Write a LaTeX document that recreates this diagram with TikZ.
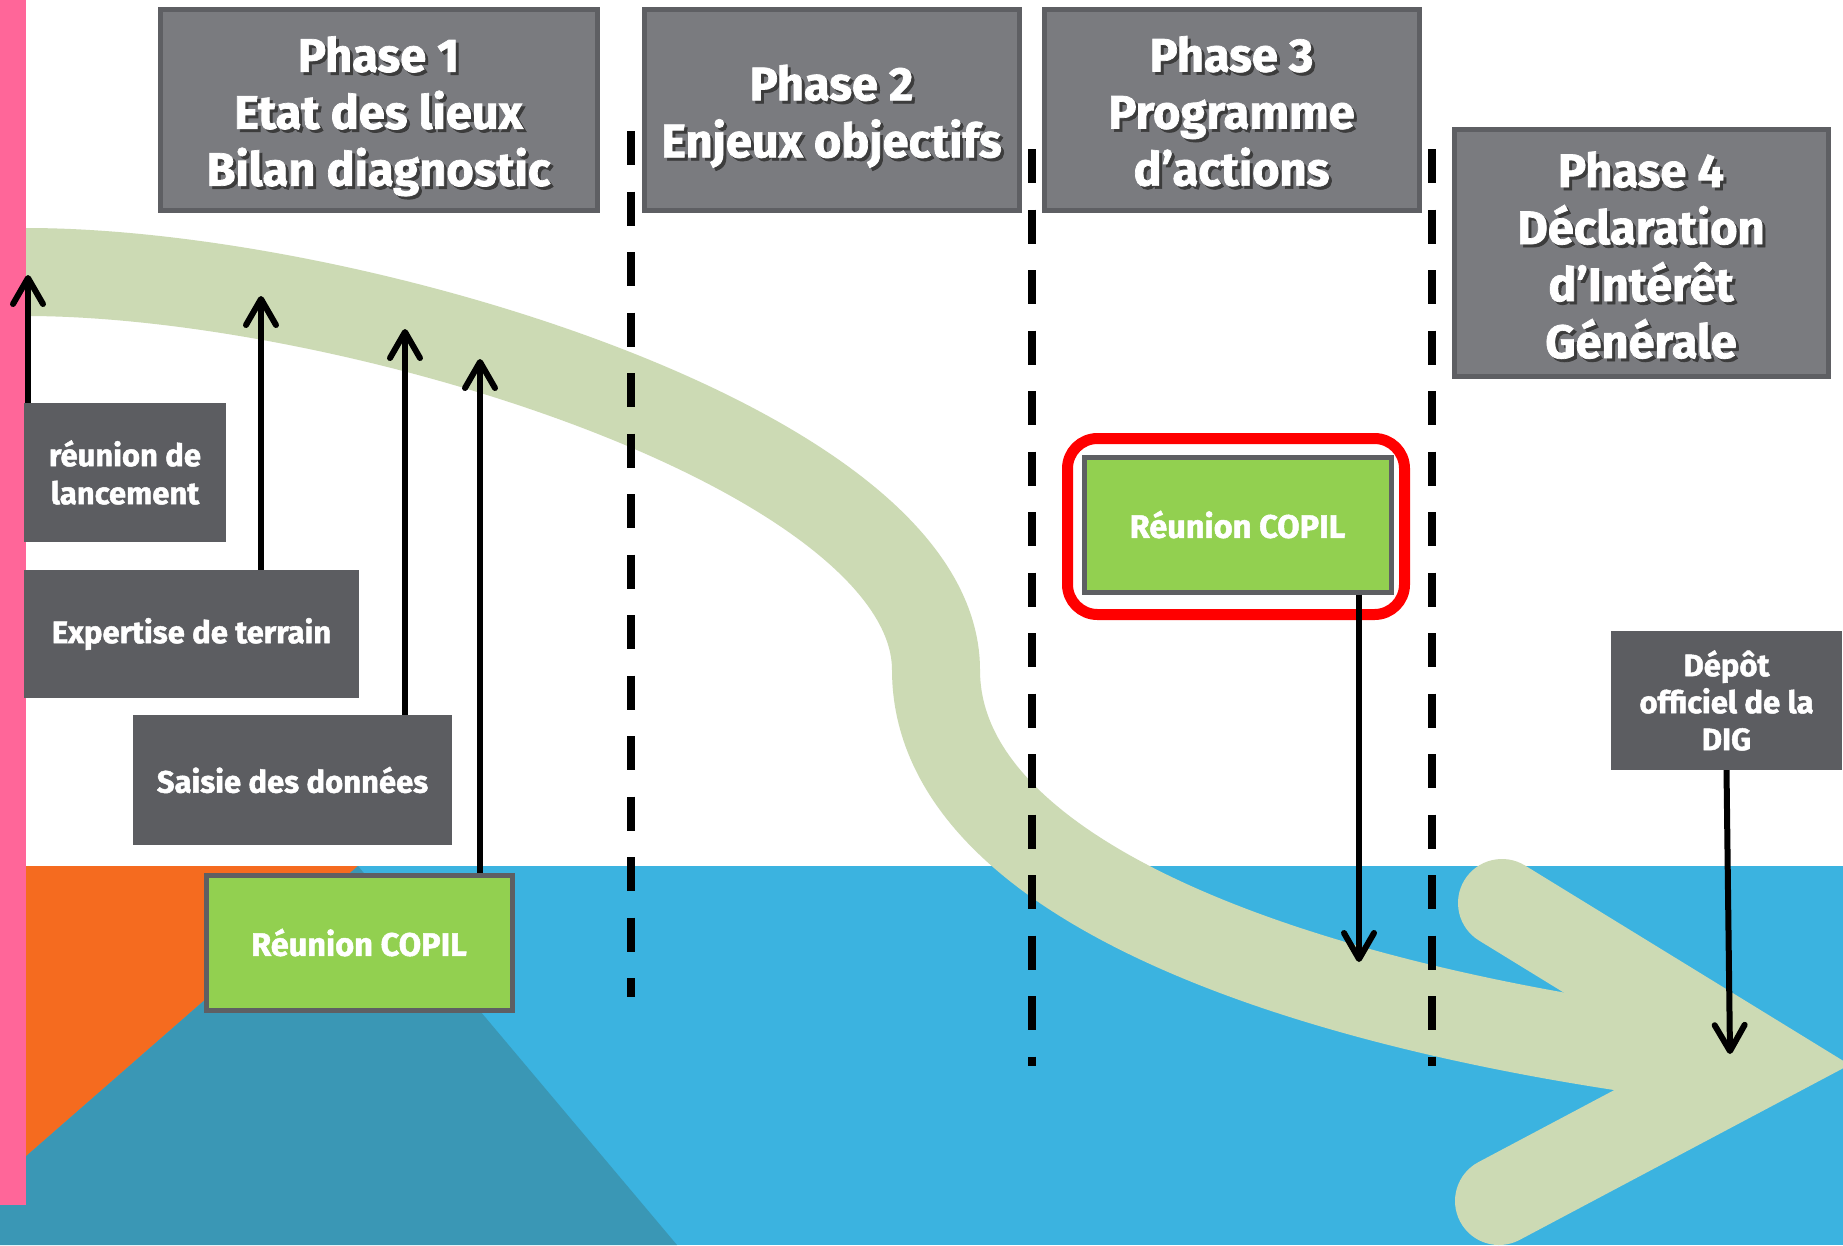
\documentclass[tikz,border=0pt]{standalone}
\usepackage{fontspec}
\setmainfont{Fira Sans}[BoldFeatures={FakeBold=1.5}]
\usetikzlibrary{arrows.meta,calc}
\definecolor{pinkc}{HTML}{FF6699}
\definecolor{orangec}{HTML}{F56B1F}
\definecolor{bluec}{HTML}{3BB3E0}
\definecolor{tealc}{HTML}{3A97B5}
\definecolor{sagec}{HTML}{CCDAB4}
\definecolor{phasefill}{HTML}{7A7B7F}
\definecolor{phaseline}{HTML}{5E5F63}
\definecolor{smallfill}{HTML}{5C5D61}
\definecolor{copilfill}{HTML}{92D050}
\definecolor{shadowc}{HTML}{3C3C3C}
\newcommand\sht[1]{\makebox[0pt][l]{\hspace{3pt}\raisebox{-3pt}{\color{shadowc}#1}}#1}
\tikzset{
  phasebox/.style={draw=phaseline, line width=5pt, fill=phasefill, text=white, align=center,
    font=\bfseries\fontsize{47}{57}\selectfont, inner sep=0pt},
  smallbox/.style={fill=smallfill, text=white, align=center,
    font=\bfseries\fontsize{31}{38}\selectfont, inner sep=0pt},
  copilbox/.style={draw=phaseline, line width=5pt, fill=copilfill, text=white, align=center,
    font=\bfseries\fontsize{32.5}{38}\selectfont, inner sep=0pt},
  sepline/.style={draw=black, line width=8pt, dash pattern=on 34pt off 26.5pt},
  arr/.style={draw=black, line width=6pt, -{Straight Barb[length=26pt,width=30pt,round]}},
  band/.style={draw=sagec, line width=88pt}
}
\begin{document}
\begin{tikzpicture}[x=1pt,y=-1pt]
\useasboundingbox (0,0) rectangle (1843,1245);
% background
\fill[white] (0,0) rectangle (1843,1245);
\fill[bluec] (0,866) rectangle (1843,1245);
\fill[orangec] (0,866) -- (358,866) -- (0,1179) -- cycle;
\fill[tealc] (358,866) -- (677,1245) -- (0,1245) -- (0,1179) -- cycle;
% big curved arrow
\draw[band] (26,272) .. controls (350,272) and (936,450) .. (936,670)
   .. controls (936,880) and (1300,1010) .. (1720,1060);
\draw[band, line cap=round, line join=miter] (1502,903) -- (1761,1062) -- (1499,1201);
% pink bar
\fill[pinkc] (0,0) rectangle (26,1205);
% dashed separators
\draw[sepline] (631,131) -- (631,997);
\draw[sepline] (1032,149) -- (1032,1066);
\draw[sepline] (1432,149) -- (1432,1066);
% phase boxes
\node[phasebox, minimum width=437pt, minimum height=201pt] (p1) at (378.5,109.5)
  {\rule{0pt}{52pt}\sht{Phase 1}\\\sht{Etat des lieux}\\\sht{Bilan diagnostic}};
\node[phasebox, minimum width=375pt, minimum height=201pt] (p2) at (831.5,109.5)
  {\rule{0pt}{52pt}\sht{Phase 2}\\\sht{Enjeux objectifs}};
\node[phasebox, minimum width=375pt, minimum height=201pt] (p3) at (1231.5,109.5)
  {\rule{0pt}{42pt}\sht{Phase 3}\\\sht{Programme}\\\sht{d’actions}};
\node[phasebox, minimum width=374pt, minimum height=247pt] (p4) at (1641,252.5)
  {\rule{0pt}{44pt}\sht{Phase 4}\\\sht{Déclaration}\\\sht{d’Intérêt}\\\sht{Générale}};
% small boxes
\node[smallbox, minimum width=202pt, minimum height=139pt] (lanc) at (125,472.5)
  {réunion de\\lancement};
\node[smallbox, minimum width=335pt, minimum height=128pt] (exp) at (191.5,634)
  {Expertise de terrain};
\node[smallbox, minimum width=319pt, minimum height=130pt] (sais) at (292.5,780)
  {Saisie des données};
\node[copilbox, minimum width=306pt, minimum height=135pt] (copil1) at (359,942.5)
  {Réunion COPIL};
\node[copilbox, minimum width=307pt, minimum height=135pt] (copil2) at (1237.5,524.5)
  {Réunion COPIL};
\node[smallbox, font=\bfseries\fontsize{31}{37}\selectfont, minimum width=231pt, minimum height=139pt] (dep) at (1726.5,700.5)
  {Dépôt\\officiel de la\\DIG};
% red highlight frame
\draw[red, line width=11pt, rounded corners=30pt]
  ($(copil2.north west)+(-14,-16)$) rectangle ($(copil2.south east)+(11,20)$);
% arrows
\coordinate (t1) at (28,275);
\coordinate (t2) at (261,296);
\coordinate (t3) at (405,329);
\coordinate (t4) at (480,359);
\coordinate (t5) at (1359,962);
\coordinate (t6) at (1730,1054);
\draw[arr] (t1 |- lanc.north) -- (t1);
\draw[arr] (t2 |- exp.north) -- (t2);
\draw[arr] (t3 |- sais.north) -- (t3);
\draw[arr] (t4 |- copil1.north) -- (t4);
\draw[arr] (t5 |- copil2.south) -- (t5);
\draw[arr] (dep.south) -- (t6);
\end{tikzpicture}
\end{document}
